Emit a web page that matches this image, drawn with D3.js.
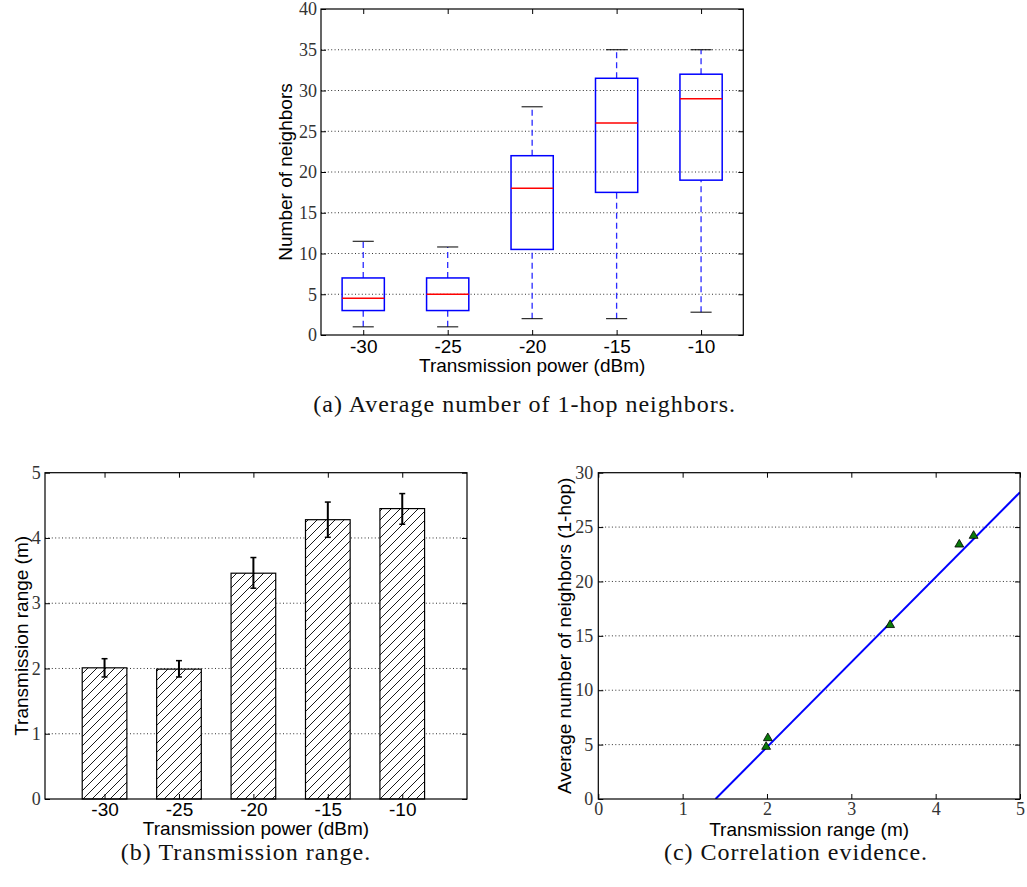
<!DOCTYPE html>
<html><head><meta charset="utf-8">
<script src="https://cdn.jsdelivr.net/npm/d3@7"></script>
<style>
body{margin:0;background:#fff;}
svg{display:block;}
</style></head><body>
<svg id="chart" width="1027" height="887"></svg>
<script>
// ---------- data ----------
const powers = ["-30", "-25", "-20", "-15", "-10"];
// (a) box plot: number of neighbors
const boxLow    = [1, 1, 2, 2, 2.8];
const boxQ1     = [3, 3, 10.5, 17.5, 19];
const boxMedian = [4.5, 5, 18, 26, 29];
const boxQ3     = [7, 7, 22, 31.5, 32];
const boxHigh   = [11.5, 10.8, 28, 35, 35];
// (b) transmission range bars with error bars
const rangeMean = [2.01, 1.99, 3.46, 4.28, 4.45];
const rangeLow  = [1.87, 1.87, 3.23, 4.01, 4.21];
const rangeHigh = [2.15, 2.12, 3.70, 4.55, 4.68];
// (c) correlation scatter + fitted line
const corrRange     = [2.01, 1.99, 3.46, 4.28, 4.45];
const corrNeighbors = [5.6, 4.8, 16.0, 23.4, 24.2];
const fitRange      = [1.39, 5];
const fitNeighbors  = [0, 28.2];
// ticks
const yTicksA = [0, 5, 10, 15, 20, 25, 30, 35, 40];
const yTicksB = [0, 1, 2, 3, 4, 5];
const xTicksC = [0, 1, 2, 3, 4, 5];
const yTicksC = [0, 5, 10, 15, 20, 25, 30];
const captions = ["(a) Average number of 1-hop neighbors.", "(b) Transmission range.", "(c) Correlation evidence."];
const labels = {
  aX: "Transmission power (dBm)", aY: "Number of neighbors",
  bX: "Transmission power (dBm)", bY: "Transmission range (m)",
  cX: "Transmission range (m)", cY: "Average number of neighbors (1-hop)"
};

// ---------- setup ----------
const SANS = '"Liberation Sans", Arial, Helvetica, sans-serif';
const SERIF = '"Liberation Serif", "Times New Roman", serif';
const svg = d3.select("#chart");
const defs = svg.append("defs");
const pat = defs.append("pattern").attr("id", "hatch")
  .attr("patternUnits", "userSpaceOnUse").attr("width", 9).attr("height", 9);
pat.append("rect").attr("width", 9).attr("height", 9).attr("fill", "#fff");
pat.append("path").attr("d", "M-1,1 l2,-2 M0,9 l9,-9 M8,10 l2,-2")
  .attr("stroke", "#000").attr("stroke-width", 0.9);

const idx = d3.range(powers.length);

function frame(x, y, o) {
  const [x0, x1] = x.range();
  const g = svg.append("g");
  g.append("g").selectAll("line").data(o.grid).join("line")
    .attr("x1", x0).attr("x2", x1)
    .attr("y1", d => y(d)).attr("y2", d => y(d))
    .attr("stroke", "#333").attr("stroke-width", 1)
    .attr("stroke-dasharray", "1,2.4");
  return g;
}

function axesOverlay(x, y, o) {
  const [x0, x1] = x.range();
  const [y0, y1] = y.range();
  const g = svg.append("g");
  const style = (sel, fam, size, col) => {
    sel.select(".domain").remove();
    sel.selectAll(".tick line").attr("stroke", "#000").attr("stroke-width", 1);
    sel.selectAll(".tick text").attr("font-family", fam).attr("font-size", size).attr("fill", col);
  };
  g.append("g").attr("transform", `translate(0,${y0})`)
    .call(d3.axisBottom(x).tickValues(o.xTicks).tickFormat(o.xFormat).tickSize(-5).tickSizeOuter(0).tickPadding(o.xPad))
    .call(s => style(s, o.xFont, o.xSize, o.xColor));
  g.append("g").attr("transform", `translate(0,${y1})`)
    .call(d3.axisTop(x).tickValues(o.xTicks).tickFormat("").tickSize(-5).tickSizeOuter(0))
    .call(s => style(s, o.xFont, o.xSize, o.xColor));
  g.append("g").attr("transform", `translate(${x0},0)`)
    .call(d3.axisLeft(y).tickValues(o.yTicks).tickFormat(d3.format("d")).tickSize(-5).tickSizeOuter(0).tickPadding(o.yPad))
    .call(s => style(s, SERIF, 18, "#333"));
  g.append("g").attr("transform", `translate(${x1},0)`)
    .call(d3.axisRight(y).tickValues(o.yTicks).tickFormat("").tickSize(-5).tickSizeOuter(0))
    .call(s => style(s, SERIF, 18, "#333"));
  g.append("rect").attr("x", x0).attr("y", y1).attr("width", x1 - x0).attr("height", y0 - y1)
    .attr("fill", "none").attr("stroke", "#000").attr("stroke-width", 1.2);
  g.append("text").attr("x", (x0 + x1) / 2).attr("y", o.xLabelY)
    .attr("text-anchor", "middle").attr("font-family", SANS).attr("font-size", 19)
    .text(o.xLabel);
  g.append("text").attr("transform", `translate(${o.yLabelX},${(y0 + y1) / 2}) rotate(-90)`)
    .attr("text-anchor", "middle").attr("dy", "0.35em")
    .attr("font-family", SANS).attr("font-size", 19)
    .text(o.yLabel);
}

// ---------- (a) box plot ----------
const xA = d3.scaleLinear().domain([0.5, 5.5]).range([321, 743.3]);
const yA = d3.scaleLinear().domain([0, 40]).range([335, 9]);
frame(xA, yA, { grid: [5, 10, 15, 20, 25, 30, 35] });
const gA = svg.append("g");
idx.forEach(i => {
  const c = i + 1;
  [[boxQ3[i], boxHigh[i]], [boxLow[i], boxQ1[i]]].forEach(([a, b]) => {
    gA.append("line").attr("x1", xA(c)).attr("x2", xA(c))
      .attr("y1", yA(a)).attr("y2", yA(b))
      .attr("stroke", "#2a2aff").attr("stroke-width", 1.3).attr("stroke-dasharray", "6,4");
  });
  [boxLow[i], boxHigh[i]].forEach(v => {
    gA.append("line").attr("x1", xA(c - 0.125)).attr("x2", xA(c + 0.125))
      .attr("y1", yA(v)).attr("y2", yA(v)).attr("stroke", "#000").attr("stroke-width", 1);
  });
  gA.append("rect").attr("x", xA(c - 0.25)).attr("width", xA(c + 0.25) - xA(c - 0.25))
    .attr("y", yA(boxQ3[i])).attr("height", yA(boxQ1[i]) - yA(boxQ3[i]))
    .attr("fill", "none").attr("stroke", "#0000ff").attr("stroke-width", 1.5);
  gA.append("line").attr("x1", xA(c - 0.25)).attr("x2", xA(c + 0.25))
    .attr("y1", yA(boxMedian[i])).attr("y2", yA(boxMedian[i]))
    .attr("stroke", "#ff0000").attr("stroke-width", 1.5);
});
axesOverlay(xA, yA, {
  xTicks: [1, 2, 3, 4, 5], xFormat: (d) => powers[d - 1], xPad: 4.5, xFont: SANS, xSize: 19, xColor: "#000",
  yTicks: yTicksA, yPad: 4,
  xLabel: labels.aX, xLabelY: 372, yLabel: labels.aY, yLabelX: 285
});

// ---------- (b) bar chart ----------
const xB = d3.scaleLinear().domain([0.2, 5.87]).range([45, 467]);
const yB = d3.scaleLinear().domain([0, 5]).range([799, 472.7]);
frame(xB, yB, { grid: [1, 2, 3, 4] });
const gB = svg.append("g");
idx.forEach(i => {
  const c = i + 1;
  gB.append("rect").attr("x", xB(c - 0.3)).attr("width", xB(c + 0.3) - xB(c - 0.3))
    .attr("y", yB(rangeMean[i])).attr("height", yB(0) - yB(rangeMean[i]))
    .attr("fill", "url(#hatch)").attr("stroke", "#000").attr("stroke-width", 1.2);
});
idx.forEach(i => {
  const c = i + 1;
  gB.append("line").attr("x1", xB(c)).attr("x2", xB(c))
    .attr("y1", yB(rangeLow[i])).attr("y2", yB(rangeHigh[i]))
    .attr("stroke", "#000").attr("stroke-width", 2);
  [rangeLow[i], rangeHigh[i]].forEach(v => {
    gB.append("line").attr("x1", xB(c - 0.04)).attr("x2", xB(c + 0.04))
      .attr("y1", yB(v)).attr("y2", yB(v)).attr("stroke", "#000").attr("stroke-width", 1.5);
  });
});
axesOverlay(xB, yB, {
  xTicks: [1, 2, 3, 4, 5], xFormat: (d) => powers[d - 1], xPad: 3.5, xFont: SANS, xSize: 19, xColor: "#000",
  yTicks: yTicksB, yPad: 4.3,
  xLabel: labels.bX, xLabelY: 835, yLabel: labels.bY, yLabelX: 21
});

// ---------- (c) correlation ----------
const xC = d3.scaleLinear().domain([0, 5]).range([598.3, 1020]);
const yC = d3.scaleLinear().domain([0, 30]).range([799, 472.7]);
frame(xC, yC, { grid: [5, 10, 15, 20, 25] });
defs.append("clipPath").attr("id", "clipC").append("rect")
  .attr("x", 598.3).attr("y", 472.7).attr("width", 1020 - 598.3).attr("height", 799 - 472.7);
const gC = svg.append("g");
gC.append("path").datum(d3.range(fitRange.length))
  .attr("clip-path", "url(#clipC)")
  .attr("d", d3.line().x(i => xC(fitRange[i])).y(i => yC(fitNeighbors[i])))
  .attr("fill", "none").attr("stroke", "#0000ff").attr("stroke-width", 2);
gC.selectAll("path.pt").data(idx).join("path").attr("class", "pt")
  .attr("transform", i => `translate(${xC(corrRange[i])},${yC(corrNeighbors[i])})`)
  .attr("d", d3.symbol(d3.symbolTriangle, 34))
  .attr("fill", "#0a7a0a").attr("stroke", "#000").attr("stroke-width", 0.8);
axesOverlay(xC, yC, {
  xTicks: xTicksC, xFormat: d3.format("d"), xPad: 3, xFont: SERIF, xSize: 18, xColor: "#333",
  yTicks: yTicksC, yPad: 5,
  xLabel: labels.cX, xLabelY: 835.5, yLabel: labels.cY, yLabelX: 564
});

// ---------- captions ----------
const capPos = [[524.7, 412], [246, 860], [796, 860]];
captions.forEach((t, i) => {
  svg.append("text").attr("x", capPos[i][0]).attr("y", capPos[i][1])
    .attr("text-anchor", "middle").attr("font-family", SERIF).attr("font-size", 24)
    .attr("letter-spacing", 1)
    .attr("fill", "#111").text(t);
});
</script>
</body></html>
